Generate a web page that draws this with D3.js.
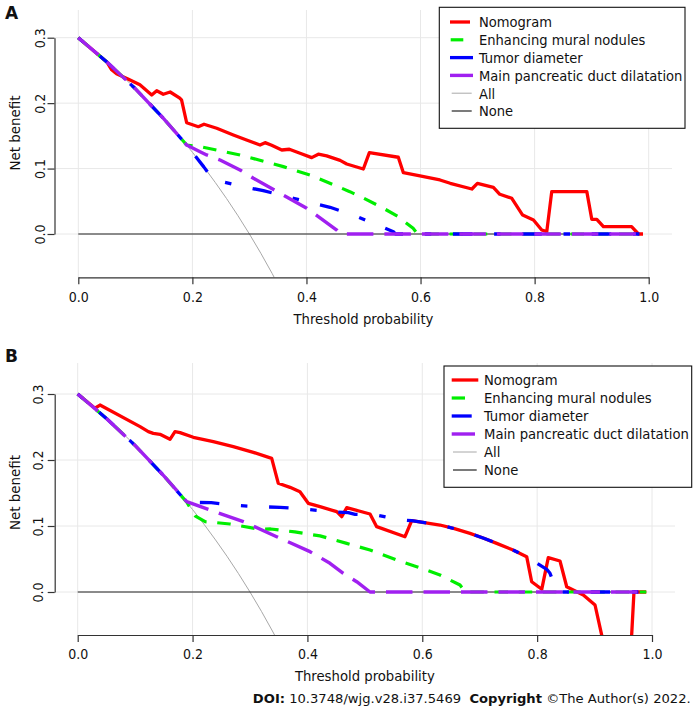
<!DOCTYPE html>
<html><head><meta charset="utf-8">
<script src="https://cdn.jsdelivr.net/npm/d3@7"></script>
<style>
html,body{margin:0;padding:0;background:#fff;}
svg{display:block;}
text{font-family:"DejaVu Sans Condensed","DejaVu Sans",sans-serif;font-stretch:condensed;fill:#111;}
</style></head>
<body><svg id="chart" width="694" height="710"></svg>
<script>
// ---------------- data ----------------
const xTicks = [0, 0.2, 0.4, 0.6, 0.8, 1.0];
const xTickLabels = ["0.0", "0.2", "0.4", "0.6", "0.8", "1.0"];
const yTicks = [0, 0.1, 0.2, 0.3];
const yTickLabels = ["0.0", "0.1", "0.2", "0.3"];
const seriesNames = ["Nomogram", "Enhancing mural nodules", "Tumor diameter", "Main pancreatic duct dilatation", "All", "None"];

// Treat-all curve (same in both panels)
const treatAll = [[0,.3],[.02,.2857],[.04,.2708],[.06,.2553],[.08,.2391],[.10,.2222],[.12,.2045],[.14,.186],[.16,.1667],[.18,.1463],[.20,.125],[.22,.1026],[.24,.0789],[.26,.0541],[.28,.0278],[.30,0],[.32,-.0294],[.34,-.0606],[.36,-.0938]];
const treatNone = [[0,0],[.99,0]];

// Panel A
const nomogramA = [[0,.3],[.05,.263],[.0585,.251],[.067,.245],[.088,.2365],[.108,.228],[.1287,.2125],[.1375,.219],[.149,.2136],[.161,.217],[.178,.2075],[.181,.205],[.19,.17],[.2104,.164],[.2204,.1677],[.2427,.1616],[.2718,.1514],[.295,.1437],[.3186,.136],[.3274,.1396],[.339,.1356],[.3567,.1284],[.37,.1295],[.3887,.1234],[.4092,.1167],[.4208,.1219],[.4355,.1193],[.459,.1125],[.4706,.107],[.4997,.0994],[.5103,.1243],[.561,.1173],[.5699,.0937],[.599,.0887],[.634,.0826],[.652,.0775],[.69,.0688],[.6997,.0775],[.7277,.0714],[.739,.0607],[.76,.0546],[.779,.029],[.798,.0214],[.8125,.0061],[.8213,.0036],[.83,.0647],[.8915,.0647],[.9002,.0225],[.909,.0225],[.9206,.0112],[.97,.0112],[.982,0],[.99,0]];
const muralA = [[0,.3],[.05,.263],[.1,.222],[.15,.176],[.19,.136],[.2133,.1335],[.2835,.1208],[.3595,.103],[.406,.09],[.44,.078],[.476,.0647],[.4997,.055],[.535,.0393],[.56,.027],[.587,.0087],[.595,0],[.99,0]];
const diameterA = [[0,.3],[.05,.263],[.1,.222],[.15,.176],[.19,.136],[.22,.1026],[.235,.085],[.2514,.08],[.2835,.0734],[.3244,.0662],[.377,.0546],[.4005,.0494],[.4413,.0408],[.482,.029],[.5145,.0173],[.5524,.0035],[.556,0],[.99,0]];
const ductA = [[0,.3],[.05,.263],[.1,.222],[.15,.176],[.19,.136],[.2134,.1258],[.2251,.1208],[.2485,.1131],[.2835,.0979],[.307,.0852],[.354,.0622],[.4005,.0393],[.4531,.006],[.46,0],[.99,0]];

// Panel B
const nomogramB = [[0,.3],[.03,.2784],[.0388,.2833],[.1086,.2505],[.123,.2429],[.1316,.2404],[.1433,.239],[.1607,.2313],[.1694,.2429],[.1782,.2415],[.2013,.2344],[.2361,.2278],[.2709,.2202],[.3058,.2116],[.3378,.2025],[.3493,.1647],[.3697,.1586],[.387,.152],[.4015,.1344],[.4219,.1293],[.451,.1217],[.4597,.1141],[.4684,.1277],[.509,.1182],[.5206,.099],[.5699,.0838],[.5816,.108],[.6308,.1015],[.656,.096],[.6831,.0889],[.707,.0815],[.7296,.0737],[.757,.064],[.7818,.0535],[.7905,.0156],[.808,.0041],[.8194,.052],[.8398,.047],[.8515,.008],[.8804,-.0045],[.9008,-.0197],[.92,-.095],[.96,-.14],[.9686,0],[.99,0]];
const muralB = [[0,.3],[.05,.263],[.1,.222],[.15,.176],[.19,.136],[.205,.115],[.222,.1065],[.242,.105],[.265,.103],[.3174,.095],[.336,.0955],[.378,.091],[.422,.085],[.4684,.0737],[.509,.0636],[.5555,.0485],[.5903,.0384],[.6308,.0258],[.6657,.0106],[.675,0],[.99,0]];
const diameterB = [[0,.3],[.05,.263],[.1,.222],[.15,.176],[.19,.136],[.2325,.1353],[.2653,.1318],[.3145,.1293],[.3523,.1283],[.3987,.1253],[.4393,.1217],[.4712,.1202],[.4829,.1177],[.5206,.1167],[.5555,.1101],[.5816,.108],[.6308,.1015],[.656,.096],[.6831,.0889],[.707,.0815],[.7296,.0737],[.757,.064],[.7818,.0535],[.8167,.0344],[.8224,.0283],[.835,0],[.99,0]];
const ductB = [[0,.3],[.05,.263],[.1,.222],[.15,.176],[.1898,.1368],[.2304,.1242],[.2884,.1065],[.3465,.0838],[.4045,.0611],[.4393,.0435],[.4625,.0283],[.4858,.0156],[.509,0],[.99,0]];

// ---------------- styles ----------------
const seriesStyle = [
  {color:"#ff0000", width:3.3, dash:null},
  {color:"#00ee00", width:3.2, dash:"13.5,10.7"},
  {color:"#0000ff", width:3.3, dash:"6.5,21.7,19.5,21.7"},
  {color:"#a020f0", width:3.4, dash:"26.5,11"},
  {color:"#a8a8a8", width:1, dash:null},
  {color:"#222", width:1.2, dash:null}
];

const panels = [
  {label:"A", labelY:19.3, data:[nomogramA, muralA, diameterA, ductA],
   xr:[78.3,648.7], yr:[234,37.7], plot:{l:55,r:672,t:10,b:277.3}, yAxisX:54.5,
   yLabX:45, netY:133, xTitleY:324,
   legend:{x0:439.3,x1:685,y0:7.3,y1:128.3,rowY:22,step:17.8,textX:479,
     samples:[[450,470],[450.7,463.3],[450,473],[450,473],[451.7,471.7],[451.7,471.7]]}},
  {label:"B", labelY:361.7, data:[nomogramB, muralB, diameterB, ductB],
   xr:[77.7,652], yr:[592,394], plot:{l:55,r:675,t:363,b:635}, yAxisX:54.7,
   yLabX:43, netY:492.5, xTitleY:680.7,
   legend:{x0:444,x1:691.7,y0:366,y1:487.3,rowY:380,step:18,textX:484,
     samples:[[451.7,478.3],[451.7,465],[451.7,471.7],[451.7,475],[453,476.7],[453,476.7]]}}
];

const svg = d3.select("#chart");
svg.append("rect").attr("width",694).attr("height",710).attr("fill","#fff");

function fitWidth(sel, target){
  const w = sel.node().getComputedTextLength();
  const fs = parseFloat(sel.attr("font-size"));
  if (w>0) sel.attr("font-size", fs*target/w);
  return fs*target/w;
}

panels.forEach((p, pi) => {
  const x = d3.scaleLinear().domain([0,1]).range(p.xr);
  const y = d3.scaleLinear().domain([0,0.3]).range(p.yr);
  const g = svg.append("g");

  // grid
  const grid = g.append("g").attr("stroke","#e8e8e8").attr("stroke-width",1);
  xTicks.forEach(t => grid.append("line").attr("x1",x(t)).attr("x2",x(t)).attr("y1",p.plot.t).attr("y2",p.plot.b));
  yTicks.forEach(t => grid.append("line").attr("x1",p.plot.l).attr("x2",p.plot.r).attr("y1",y(t)).attr("y2",y(t)));

  // clip
  const clipId = "clip"+p.label;
  svg.append("clipPath").attr("id",clipId).append("rect")
    .attr("x",p.plot.l).attr("y",p.plot.t).attr("width",p.plot.r-p.plot.l).attr("height",p.plot.b-p.plot.t);

  const line = d3.line().x(d=>x(d[0])).y(d=>y(d[1]));
  const curves = g.append("g").attr("clip-path",`url(#${clipId})`);
  const drawOrder = [[treatAll,4],[treatNone,5],[p.data[0],0],[p.data[1],1],[p.data[2],2],[p.data[3],3]];
  drawOrder.forEach(([d,si]) => {
    const s = seriesStyle[si];
    curves.append("path").attr("d",line(d)).attr("fill","none")
      .attr("stroke",s.color).attr("stroke-width",s.width)
      .attr("stroke-dasharray",s.dash).attr("stroke-linejoin","round")
      .attr("stroke-linecap","butt");
  });

  // x axis
  const xa = g.append("g").attr("transform",`translate(0,${p.plot.b})`)
    .call(d3.axisBottom(x).tickValues(xTicks).tickFormat((d,i)=>xTickLabels[i]).tickSize(7).tickSizeOuter(0));
  xa.select(".domain").attr("stroke","#333").attr("stroke-width",1.2);
  xa.selectAll(".tick line").attr("stroke","#333").attr("stroke-width",1.2);
  xa.selectAll(".tick text").attr("y",24.4).attr("dy",0).attr("font-size",14)
    .attr("font-family",null).attr("fill","#111");
  // y axis
  const ya = g.append("g").attr("transform",`translate(${p.yAxisX},0)`)
    .call(d3.axisLeft(y).tickValues(yTicks).tickFormat((d,i)=>yTickLabels[i]).tickSize(7).tickSizeOuter(0));
  ya.select(".domain").attr("stroke","#333").attr("stroke-width",1.2);
  ya.selectAll(".tick line").attr("stroke","#333").attr("stroke-width",1.2);
  ya.selectAll(".tick text").attr("x",0).attr("y",0).attr("dy",0)
    .attr("transform",`translate(${p.yLabX-p.yAxisX},0) rotate(-90)`)
    .attr("text-anchor","middle").attr("font-size",14).attr("font-family",null).attr("fill","#111");
  svg.selectAll("g.tick text").style("font-family",'"DejaVu Sans Condensed","DejaVu Sans",sans-serif');

  // axis titles
  const xt = g.append("text").attr("x",(p.xr[0]+p.xr[1])/2).attr("y",p.xTitleY)
    .attr("text-anchor","middle").attr("font-size",14).text("Threshold probability");
  fitWidth(xt,140);
  const yt = g.append("text").attr("transform",`translate(20,${p.netY}) rotate(-90)`)
    .attr("text-anchor","middle").attr("font-size",14).text("Net benefit");
  fitWidth(yt,75);

  // panel label
  g.append("text").attr("x",5).attr("y",p.labelY).attr("font-size",17).attr("font-weight","bold")
    .style("font-family",'"DejaVu Sans",sans-serif').style("font-stretch","normal").attr("fill","#231f20").text(p.label);

  // legend
  const L = p.legend;
  const lg = g.append("g");
  lg.append("rect").attr("x",L.x0).attr("y",L.y0).attr("width",L.x1-L.x0).attr("height",L.y1-L.y0)
    .attr("fill","#fff").attr("stroke","#111").attr("stroke-width",1.1);
  const texts = [];
  seriesNames.forEach((name,i) => {
    const s = seriesStyle[i];
    const ry = L.rowY + i*L.step;
    lg.append("line").attr("x1",L.samples[i][0]).attr("x2",L.samples[i][1]).attr("y1",ry).attr("y2",ry)
      .attr("stroke",s.color).attr("stroke-width",s.width);
    texts.push(lg.append("text").attr("x",L.textX).attr("y",ry+5.3).attr("font-size",15).text(name));
  });
  const fs = fitWidth(texts[3], L.x1 - L.textX - 2.5);
  texts.forEach(t => t.attr("font-size",fs));
});

// footer
const foot = svg.append("text").attr("x",690.7).attr("y",703.3).attr("text-anchor","end")
  .attr("font-size",13).style("font-family",'"DejaVu Sans",sans-serif').style("font-stretch","normal")
  .style("white-space","pre").attr("fill","#111");
foot.append("tspan").attr("font-weight","bold").text("DOI:");
foot.append("tspan").text(" 10.3748/wjg.v28.i37.5469  ");
foot.append("tspan").attr("font-weight","bold").text("Copyright");
foot.append("tspan").text(" ©The Author(s) 2022.");
fitWidth(foot, 438);
</script></body></html>
